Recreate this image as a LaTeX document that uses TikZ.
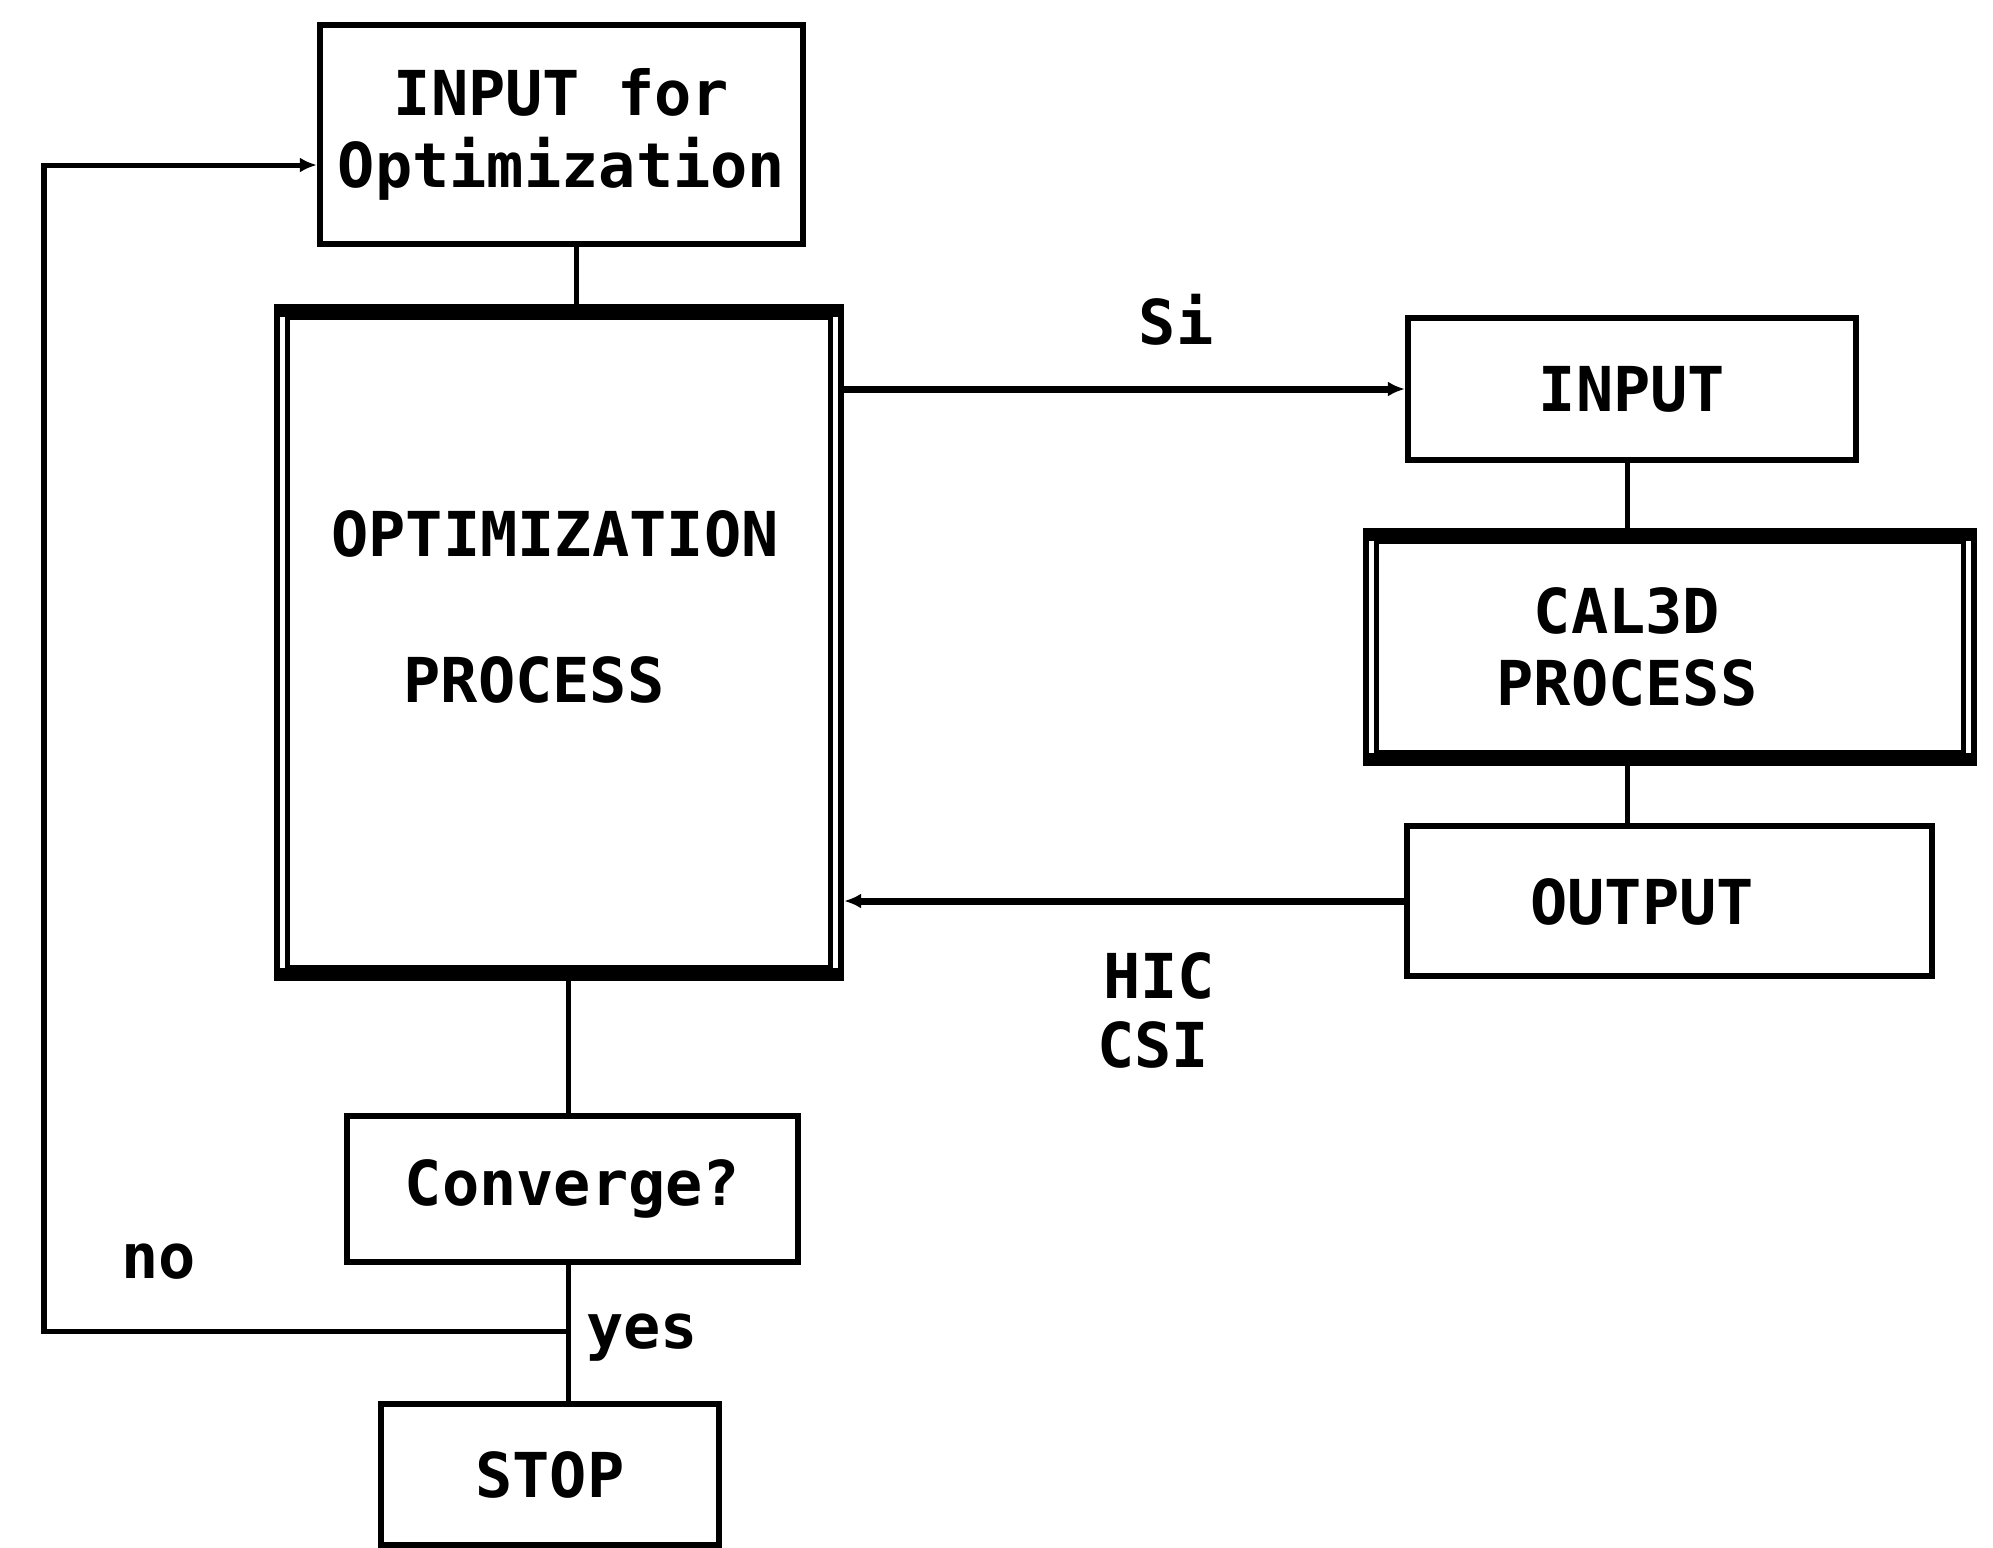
\documentclass[tikz,border=0pt]{standalone}
\usepackage{fontspec}
\newfontfamily\diamono{DejaVu Sans Mono}
\newcommand\diafont{\diamono\fontsize{17.6pt}{20.6pt}\selectfont}
\usetikzlibrary{arrows.meta}
\begin{document}
\begin{tikzpicture}[x=0.01cm,y=-0.01cm,
  box/.style={draw, line width=0.06cm, inner sep=0pt, align=center, font=\diafont\bfseries},
  txt/.style={inner sep=0pt, align=center, font=\diafont\bfseries},
  conn/.style={line width=0.05cm},
  flow/.style={line width=0.07cm, -{Latex[length=0.17cm,width=0.15cm]}},
  band/.style={fill=black}]
\useasboundingbox (0,0) rectangle (1993,1547);

% boxes of the optimisation loop
\node[box, minimum width=4.83cm, minimum height=2.19cm] (inopt) at (561.5,134.5) {INPUT for\\Optimization};
\node[box, minimum width=5.64cm, minimum height=6.71cm] (opt) at (559,642.5) {};
\node[box, minimum width=4.51cm, minimum height=1.46cm] (conv) at (572.5,1189) {Converge?};
\node[box, minimum width=3.38cm, minimum height=1.41cm] (stop) at (550,1474.5) {STOP};

% boxes of the CAL3D side
\node[box, minimum width=4.48cm, minimum height=1.42cm] (inp) at (1632,389) {INPUT};
\node[box, minimum width=6.08cm, minimum height=2.32cm] (cal) at (1670,647) {};
\node[box, minimum width=5.25cm, minimum height=1.50cm] (out) at (1669.5,901) {};

% double frames: inner rectangle plus solid top and bottom bands
\foreach \b in {opt,cal}{
  \draw[line width=0.05cm] ([shift={(14,14)}]\b.north west) rectangle ([shift={(-14,-14)}]\b.south east);
  \fill[band] (\b.north west) rectangle ([shift={(0,13)}]\b.north east);
  \fill[band] ([shift={(0,-13)}]\b.south west) rectangle (\b.south east);
}

% texts inside the boxes
\node[txt] (optA) at (555,534) {OPTIMIZATION};
\node[txt] (optB) at (534,680) {PROCESS};
\node[txt] (calT) at (1627,647) {CAL3D\\PROCESS};
\node[txt] (outT) at (1642,902) {OUTPUT};

% vertical links
\coordinate (xa) at (576,0);
\coordinate (xb) at (568,0);
\coordinate (xc) at (1627,0);
\draw[conn] (inopt.south -| xa) -- (opt.north -| xa);
\draw[conn] (opt.south -| xb) -- (conv.north -| xb);
\draw[conn] (conv.south -| xb) -- (stop.north -| xb);
\draw[conn] (inp.south -| xc) -- (cal.north -| xc);
\draw[conn] (cal.south -| xc) -- (out.north -| xc);

% data exchange between the two processes
\draw[flow] (opt.east |- inp.west) -- (inp.west);
\draw[flow] (out.west) -- (out.west -| opt.east);
\node[txt] (si) at (1176,320) {Si};
\node[txt] (hic) at (1159,976) {HIC};
\node[txt] (csi) at (1153,1045) {CSI};

% "no" branch back to the input
\coordinate (nojoin) at (568,1331);
\coordinate (nocorner) at (44,1331);
\coordinate (topcorner) at (44,165);
\draw[conn, -{Latex[length=0.17cm,width=0.15cm]}] (nojoin) -- (nocorner) -- (topcorner) -- (topcorner -| inopt.west);
\node[txt] (no) at (159,1262) {no};
\node[txt] (yes) at (642,1338) {yes};
\end{tikzpicture}
\end{document}
